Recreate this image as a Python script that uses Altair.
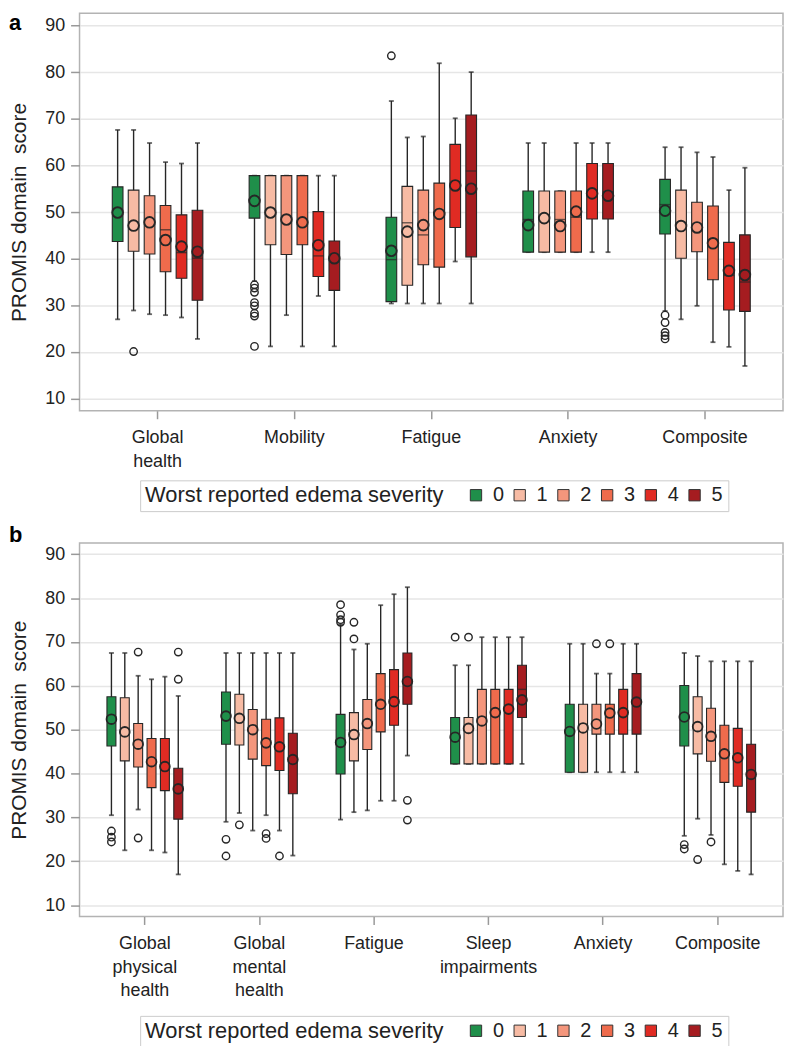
import altair as alt
import pandas as pd

SEVERITY = ["0", "1", "2", "3", "4", "5"]
COLORS = ["#1f8f4a", "#f7bba4", "#f4967c", "#ef6b4c", "#e02b23", "#a51c20"]

# ---------------- Panel a ----------------
A_DOMAINS = ["Global health", "Mobility", "Fatigue", "Anxiety", "Composite"]
A_WLO = [[27.0, 28.9, 28.1, 27.9, 27.4, 22.8],
         [35.2, 21.2, 27.9, 21.2, 32.0, 21.2],
         [30.4, 30.4, 30.4, 30.4, 39.4, 30.4],
         [41.4, 41.4, 41.4, 41.4, 41.4, 41.4],
         [28.8, 27.0, 29.9, 22.1, 21.1, 17.0]]
A_Q1 = [[43.7, 41.6, 41.0, 37.2, 35.8, 31.1],
        [48.7, 43.0, 40.9, 43.0, 36.2, 33.2],
        [30.8, 34.3, 38.7, 38.2, 46.7, 40.4],
        [41.4, 41.4, 41.4, 41.4, 48.5, 48.5],
        [45.3, 40.1, 41.5, 35.5, 29.0, 28.7]]
A_MED = [[50.0, 47.8, 48.3, 46.2, 41.3, 40.1],
         [53.0, 50.0, 48.9, 48.2, 40.6, 40.1],
         [39.8, 47.7, 45.1, 50.1, 56.1, 58.8],
         [48.4, 48.9, 48.4, 48.9, 54.3, 54.3],
         [51.6, 47.2, 47.0, 43.0, 36.4, 35.0]]
A_MEAN = [[49.9, 47.1, 47.8, 44.0, 42.6, 41.5],
          [52.4, 49.9, 48.4, 47.8, 42.9, 40.1],
          [41.7, 45.8, 47.2, 49.6, 55.7, 55.0],
          [47.2, 48.7, 47.0, 50.1, 54.0, 53.5],
          [50.3, 47.0, 46.7, 43.3, 37.4, 36.5]]
A_Q3 = [[55.4, 54.7, 53.5, 51.4, 49.4, 50.4],
        [57.8, 57.8, 57.8, 57.8, 50.1, 43.8],
        [48.9, 55.5, 54.7, 56.2, 64.5, 70.8],
        [54.5, 54.5, 54.5, 54.5, 60.4, 60.4],
        [57.0, 54.7, 52.1, 51.3, 43.5, 45.1]]
A_WHI = [[67.6, 67.6, 64.8, 60.7, 60.4, 64.8],
         [57.8, 57.8, 57.8, 57.8, 57.8, 57.8],
         [73.8, 66.0, 66.2, 81.9, 70.1, 80.0],
         [64.8, 64.8, 54.5, 64.8, 64.8, 64.8],
         [63.9, 63.9, 62.8, 61.8, 54.7, 59.5]]
A_OUT_DOMAIN = ["Global health",
                "Mobility", "Mobility", "Mobility", "Mobility", "Mobility", "Mobility", "Mobility", "Mobility",
                "Fatigue",
                "Composite", "Composite", "Composite", "Composite", "Composite"]
A_OUT_SEV = ["1",
             "0", "0", "0", "0", "0", "0", "0", "0",
             "0",
             "0", "0", "0", "0", "0"]
A_OUT_VALUE = [20.1,
               34.4, 33.7, 32.8, 30.6, 29.9, 28.3, 27.7, 21.2,
               83.5,
               27.9, 26.3, 24.2, 23.5, 22.8]

# ---------------- Panel b ----------------
B_DOMAINS = ["Global physical health", "Global mental health", "Fatigue",
             "Sleep impairments", "Anxiety", "Composite"]
B_WLO = [[30.5, 22.5, 31.8, 22.5, 22.0, 17.0],
         [29.0, 31.0, 27.0, 30.5, 27.0, 21.3],
         [29.5, 31.2, 31.6, 33.8, 33.8, 44.1],
         [42.2, 42.2, 42.2, 42.2, 42.2, 42.2],
         [40.3, 40.3, 40.3, 40.3, 40.3, 40.3],
         [25.8, 29.7, 26.0, 19.3, 17.8, 17.0]]
B_Q1 = [[46.3, 42.9, 41.5, 36.8, 36.1, 29.6],
        [46.7, 46.5, 43.3, 41.8, 40.7, 35.4],
        [39.9, 42.9, 45.5, 49.5, 51.0, 55.8],
        [42.2, 42.2, 42.2, 42.2, 42.2, 52.8],
        [40.3, 40.3, 49.0, 49.0, 49.0, 49.0],
        [46.3, 44.5, 42.8, 38.0, 37.1, 31.2]]
B_MED = [[52.4, 49.8, 47.1, 43.2, 42.0, 36.9],
         [53.3, 53.0, 50.1, 47.1, 46.7, 43.3],
         [47.1, 49.4, 51.7, 56.2, 56.9, 61.5],
         [48.6, 50.5, 52.4, 54.0, 54.7, 59.2],
         [49.8, 50.9, 51.7, 53.2, 53.9, 56.9],
         [53.5, 50.9, 48.6, 44.7, 43.7, 39.9]]
B_MEAN = [[52.4, 49.5, 46.7, 42.7, 41.6, 36.5],
          [53.1, 52.6, 50.0, 47.0, 46.1, 43.2],
          [47.1, 48.9, 51.4, 55.8, 56.4, 61.0],
          [48.3, 50.3, 52.0, 53.9, 54.7, 56.8],
          [49.6, 50.4, 51.3, 53.8, 53.9, 56.3],
          [52.9, 50.7, 48.5, 44.5, 43.6, 39.8]]
B_Q3 = [[57.5, 57.3, 51.4, 48.0, 48.0, 41.2],
        [58.6, 58.1, 54.6, 52.4, 52.7, 49.2],
        [53.5, 53.9, 56.9, 62.8, 63.7, 67.5],
        [52.8, 52.8, 59.2, 59.2, 59.2, 64.7],
        [55.8, 55.8, 55.8, 55.8, 59.2, 62.8],
        [60.1, 57.5, 54.9, 51.0, 50.3, 46.7]]
B_WHI = [[67.5, 67.5, 62.3, 61.5, 62.1, 57.7],
         [67.5, 67.5, 67.5, 67.5, 67.5, 67.5],
         [74.0, 68.3, 69.6, 78.4, 80.9, 82.5],
         [64.7, 64.7, 71.1, 71.1, 71.1, 71.1],
         [69.6, 69.6, 62.8, 62.8, 69.6, 69.6],
         [67.5, 66.8, 65.6, 65.6, 65.6, 65.6]]
B_OUT_DOMAIN = ["Global physical health"] * 7 + ["Global mental health"] * 6 + \
               ["Fatigue"] * 8 + ["Sleep impairments"] * 2 + ["Anxiety"] * 2 + ["Composite"] * 4
B_OUT_SEV = ["0", "0", "0", "2", "2", "5", "5",
             "0", "0", "1", "3", "3", "4",
             "0", "0", "0", "0", "1", "1", "5", "5",
             "0", "1",
             "2", "3",
             "0", "0", "1", "2"]
B_OUT_VALUE = [26.9, 25.5, 24.4, 67.7, 25.3, 67.7, 61.5,
               25.0, 21.2, 28.3, 26.3, 25.2, 21.2,
               78.5, 76.2, 75.1, 74.5, 74.5, 70.7, 33.9, 29.4,
               71.1, 71.1,
               69.6, 69.6,
               23.8, 22.8, 20.4, 24.4]


def stats_frame(domains, wlo, q1, med, mean, q3, whi):
    rows = []
    for i, d in enumerate(domains):
        for j, s in enumerate(SEVERITY):
            rows.append(dict(domain=d, sev=s, wlo=wlo[i][j], q1=q1[i][j], med=med[i][j],
                             mean=mean[i][j], q3=q3[i][j], whi=whi[i][j]))
    return pd.DataFrame(rows)


INK = "#262626"


def panel(domains, stats, outl, tag, height, box_w, mean_size, tag_y, legend_y):
    xenc = alt.X("domain:N", sort=domains,
                 scale=alt.Scale(domain=domains, paddingInner=0.3, paddingOuter=0.22),
                 axis=alt.Axis(title=None, labelExpr="split(datum.label, ' ')", labelAngle=0,
                               labelFontSize=18, labelColor="#222", labelPadding=10,
                               labelLineHeight=24, tickSize=8, tickColor="#999",
                               tickWidth=1.5, domain=False, grid=False, labelLimit=300))
    xo = alt.XOffset("sev:N", scale=alt.Scale(domain=SEVERITY, paddingInner=0.33,
                                              paddingOuter=0.165))
    yscale = alt.Scale(domain=[7.4, 92.6], nice=False, zero=False)
    yaxis = alt.Axis(title="PROMIS domain\u00a0 score", values=list(range(10, 91, 10)),
                     titleFontSize=21, titleFontWeight="normal", titleColor="#222",
                     titlePadding=15, labelFontSize=18, labelColor="#222", labelPadding=6,
                     tickSize=9, tickColor="#999", tickWidth=1.5, domain=False,
                     grid=True, gridColor="#e6e6e6", gridWidth=1.5)

    def Y(field):
        return alt.Y(f"{field}:Q", scale=yscale, axis=yaxis)

    base = alt.Chart(stats)
    whisk = base.mark_rule(color=INK, strokeWidth=1.4).encode(
        x=xenc, xOffset=xo, y=Y("wlo"), y2="whi:Q")
    cap_lo = base.mark_tick(color=INK, size=5, thickness=1.8).encode(
        x=xenc, xOffset=xo, y=Y("wlo"))
    cap_hi = base.mark_tick(color=INK, size=5, thickness=1.8).encode(
        x=xenc, xOffset=xo, y=Y("whi"))
    boxes = base.mark_bar(stroke=INK, strokeWidth=1.1).encode(
        x=xenc, xOffset=xo, y=Y("q1"), y2="q3:Q",
        color=alt.Color("sev:N", scale=alt.Scale(domain=SEVERITY, range=COLORS),
                        legend=alt.Legend(orient="none", legendX=61, legendY=legend_y,
                                          direction="horizontal",
                                          title="Worst reported edema severity",
                                          titleOrient="left", titleFontSize=22,
                                          titleFontWeight="normal", titleColor="#222",
                                          titleLimit=500, titlePadding=22,
                                          labelFontSize=20,
                                          labelColor="#222", symbolType="square",
                                          symbolSize=130, symbolStrokeColor="#333",
                                          symbolStrokeWidth=1, labelOffset=7,
                                          columnPadding=5, strokeColor="#cccccc",
                                          padding=5, fillColor="white")))
    meds = base.mark_tick(color=INK, size=box_w, thickness=1.4).encode(
        x=xenc, xOffset=xo, y=Y("med"))
    means = base.mark_point(shape="circle", filled=True, size=mean_size, stroke=INK,
                            strokeWidth=1.9, opacity=1).encode(
        x=xenc, xOffset=xo, y=Y("mean"),
        fill=alt.Fill("sev:N", scale=alt.Scale(domain=SEVERITY, range=COLORS), legend=None))
    outs = alt.Chart(outl).mark_point(shape="circle", filled=False, size=56, color=INK,
                                      strokeWidth=1.4, opacity=1).encode(
        x=xenc, xOffset=xo, y=Y("value"))
    label = alt.Chart(pd.DataFrame({"t": [tag]})).mark_text(
        fontSize=22, fontWeight="bold", align="left", baseline="top",
        color="#000").encode(text="t:N", x=alt.value(-71), y=alt.value(tag_y))
    return alt.layer(whisk, cap_lo, cap_hi, boxes, meds, means, outs, label).properties(
        width=708, height=height)


a_stats = stats_frame(A_DOMAINS, A_WLO, A_Q1, A_MED, A_MEAN, A_Q3, A_WHI)
a_out = pd.DataFrame({"domain": A_OUT_DOMAIN, "sev": A_OUT_SEV, "value": A_OUT_VALUE})
b_stats = stats_frame(B_DOMAINS, B_WLO, B_Q1, B_MED, B_MEAN, B_Q3, B_WHI)
b_out = pd.DataFrame({"domain": B_OUT_DOMAIN, "sev": B_OUT_SEV, "value": B_OUT_VALUE})

pa = panel(A_DOMAINS, a_stats, a_out, "a", 400, 10.8, 115, 0, 470)
pb = panel(B_DOMAINS, b_stats, b_out, "b", 376, 9.0, 95, -18, 476)

chart = alt.vconcat(pa, pb, spacing=10).resolve_scale(
    x="independent", xOffset="independent", y="independent",
    color="independent", fill="independent"
).resolve_legend(color="independent").configure(
    font="Liberation Sans"
).configure_view(
    stroke="#b3b3b3", strokeWidth=1.5
).properties(padding={"left": 0, "top": 0, "right": 0, "bottom": 0})

chart.save("out.html", embed_options={"renderer": "svg", "actions": False})
